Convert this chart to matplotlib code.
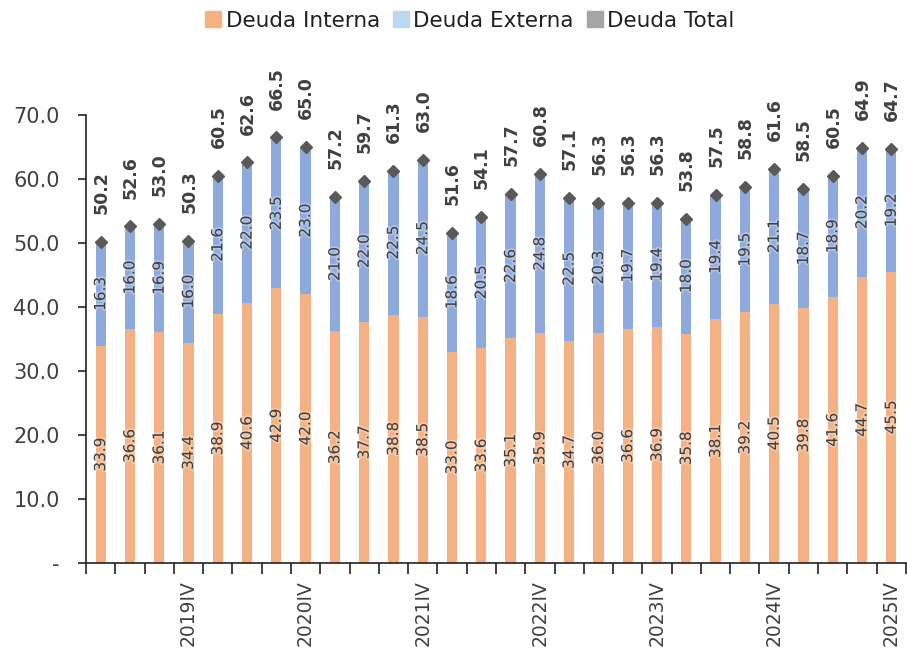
import numpy as np
import matplotlib
matplotlib.use("Agg")
import matplotlib.pyplot as plt
from matplotlib.patches import Patch
import matplotlib.patheffects as pe

# datos trimestrales 2019I - 2025IV (% del PIB)
deuda_interna = [33.9, 36.6, 36.1, 34.4, 38.9, 40.6, 42.9, 42.0, 36.2, 37.7,
                 38.8, 38.5, 33.0, 33.6, 35.1, 35.9, 34.7, 36.0, 36.6, 36.9,
                 35.8, 38.1, 39.2, 40.5, 39.8, 41.6, 44.7, 45.5]
deuda_externa = [16.3, 16.0, 16.9, 16.0, 21.6, 22.0, 23.5, 23.0, 21.0, 22.0,
                 22.5, 24.5, 18.6, 20.5, 22.6, 24.8, 22.5, 20.3, 19.7, 19.4,
                 18.0, 19.4, 19.5, 21.1, 18.7, 18.9, 20.2, 19.2]
deuda_total = [50.2, 52.6, 53.0, 50.3, 60.5, 62.6, 66.5, 65.0, 57.2, 59.7,
               61.3, 63.0, 51.6, 54.1, 57.7, 60.8, 57.1, 56.3, 56.3, 56.3,
               53.8, 57.5, 58.8, 61.6, 58.5, 60.5, 64.9, 64.7]
etiquetas = ["", "", "", "2019IV", "", "", "", "2020IV", "", "", "", "2021IV",
             "", "", "", "2022IV", "", "", "", "2023IV", "", "", "", "2024IV",
             "", "", "", "2025IV"]

c_int = "#F4B183"
c_ext = "#8EA9DB"
c_txt = "#404040"

fig = plt.figure(figsize=(9.07, 6.52), dpi=100)
ax = fig.add_axes([0.0948, 0.1365, 0.904, 0.6871])

x = np.arange(len(deuda_interna))
ancho = 0.35
ax.bar(x, deuda_interna, ancho, color=c_int)
ax.bar(x, deuda_externa, ancho, bottom=deuda_interna, color=c_ext)
ax.plot(x, deuda_total, linestyle="none", marker="D", markersize=6.5,
        color="#595959", clip_on=False, zorder=5)

glow = [pe.withStroke(linewidth=2.5, foreground="white", alpha=0.3)]
for i in range(len(x)):
    ax.text(x[i], deuda_interna[i] / 2, "%.1f" % deuda_interna[i], rotation=90,
            ha="center", va="center", fontsize=11, color=c_txt, path_effects=glow)
    ax.text(x[i], deuda_interna[i] + deuda_externa[i] / 2, "%.1f" % deuda_externa[i],
            rotation=90, ha="center", va="center", fontsize=11, color=c_txt,
            path_effects=glow)
    ax.annotate("%.1f" % deuda_total[i], (x[i], deuda_total[i]), xytext=(0.5, 20),
                textcoords="offset points", rotation=90, ha="center", va="bottom",
                fontsize=12.5, fontweight="bold", color=c_txt, annotation_clip=False)

# ejes
ax.set_ylim(0, 70)
ax.set_xlim(-0.5, len(x) - 0.5)
ax.set_yticks(np.arange(0, 71, 10))
ax.set_yticklabels(["-"] + ["%.1f" % v for v in range(10, 71, 10)])
ax.set_xticks(np.arange(-0.5, len(x), 1))
ax.set_xticklabels([])
ax.set_xticks(x, minor=True)
ax.set_xticklabels(etiquetas, minor=True, rotation=90)
ax.tick_params(axis="x", which="major", length=8, width=1.2, color="#222222")
ax.tick_params(axis="x", which="minor", length=0, pad=12, labelsize=13.5, labelcolor=c_txt)
ax.tick_params(axis="y", length=6, width=1.2, color="#222222", labelsize=15,
               labelcolor=c_txt, pad=13)
for s in ["top", "right"]:
    ax.spines[s].set_visible(False)
for s in ["left", "bottom"]:
    ax.spines[s].set_color("#222222")
    ax.spines[s].set_linewidth(1.2)

handles = [Patch(color=c_int, label="Deuda Interna"),
           Patch(color="#BDD7EE", label="Deuda Externa"),
           Patch(color="#A5A5A5", label="Deuda Total")]
fig.legend(handles=handles, loc="center", bbox_to_anchor=(0.518, 0.968), ncol=3,
           frameon=False, fontsize=15.5, handlelength=0.75, handleheight=0.75,
           handletextpad=0.2, columnspacing=0.6, labelcolor="#202020")

fig.savefig("out.png", dpi=100)
